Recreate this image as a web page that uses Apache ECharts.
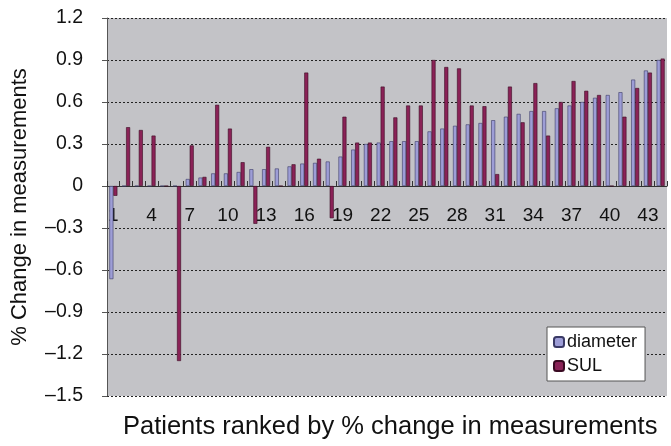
<!DOCTYPE html>
<html>
<head>
<meta charset="utf-8">
<script src="https://cdn.jsdelivr.net/npm/echarts@6/dist/echarts.min.js"></script>
<style>
html,body{margin:0;padding:0;background:#fff;}
#chart{width:671px;height:446px;}
</style>
</head>
<body>
<div id="chart"></div>
<script>
const categories = ['1','2','3','4','5','6','7','8','9','10','11','12','13','14','15','16','17','18','19','20','21','22','23','24','25','26','27','28','29','30','31','32','33','34','35','36','37','38','39','40','41','42','43','44'];
const diameter = [-0.665, 0, 0, 0, 0, 0, 0.05, 0.06, 0.09, 0.09, 0.10, 0.12, 0.12, 0.125, 0.14, 0.16, 0.165, 0.175, 0.21, 0.26, 0.30, 0.31, 0.32, 0.32, 0.32, 0.39, 0.41, 0.43, 0.44, 0.45, 0.47, 0.495, 0.515, 0.535, 0.535, 0.555, 0.575, 0.60, 0.63, 0.65, 0.67, 0.76, 0.825, 0.90];
const sul = [-0.07, 0.42, 0.40, 0.36, 0, -1.25, 0.29, 0.065, 0.58, 0.41, 0.17, -0.27, 0.28, 0, 0.155, 0.81, 0.195, -0.23, 0.495, 0.31, 0.31, 0.71, 0.49, 0.575, 0.575, 0.90, 0.85, 0.84, 0.575, 0.57, 0.085, 0.71, 0.455, 0.735, 0.36, 0.60, 0.75, 0.68, 0.65, 0, 0.495, 0.70, 0.81, 0.91];
const seriesNames = ['diameter', 'SUL'];
const yAxisTitle = '% Change in measurements';
const xAxisTitle = 'Patients ranked by % change in measurements';

const FONT = '"Liberation Sans", Arial, Helvetica, sans-serif';
const chart = echarts.init(document.getElementById('chart'));
chart.setOption({
  animation: false,
  backgroundColor: '#ffffff',
  textStyle: { fontFamily: FONT },
  grid: { left: 107, right: 4, top: 18, bottom: 50, show: true, backgroundColor: '#c3c3c7', borderWidth: 0 },
  legend: {
    orient: 'vertical',
    left: 547, top: 327,
    padding: [6, 8, 6, 6],
    itemGap: 6,
    itemWidth: 10, itemHeight: 10,
    backgroundColor: '#ffffff',
    borderColor: '#555',
    borderWidth: 1,
    borderRadius: 0,
    textStyle: { fontSize: 18, color: '#111', fontFamily: FONT, padding: [0,0,0,-2] },
    data: seriesNames
  },
  graphic: [{
    type: 'text',
    left: 123,
    top: 414,
    style: { text: xAxisTitle, fontSize: 25.5, fill: '#111', fontFamily: FONT }
  }],
  xAxis: {
    type: 'category',
    data: categories,
    position: 'bottom',
    offset: -210,
    axisLine: { onZero: false, lineStyle: { color: '#333', width: 1 } },
    axisTick: { show: true, inside: true, length: 5, interval: 0, lineStyle: { color: '#333' } },
    axisLabel: { interval: 2, fontSize: 19, color: '#111', margin: 20, fontFamily: FONT },
    splitLine: { show: false }
  },
  yAxis: {
    type: 'value',
    min: -1.5, max: 1.2, interval: 0.3,
    axisLine: { show: true, lineStyle: { color: '#555', width: 1 } },
    axisTick: { show: true, length: 5, lineStyle: { color: '#555' } },
    axisLabel: {
      fontSize: 19.5, color: '#111', margin: 24, fontFamily: FONT,
      formatter: v => String(v).replace('-', '\u2013')
    },
    splitLine: { show: true, showMinLine: true, showMaxLine: true, lineStyle: { color: '#222', type: [2, 2], width: 1 } },
    name: yAxisTitle,
    nameLocation: 'middle',
    nameGap: 76,
    nameTextStyle: { fontSize: 22, color: '#111', fontFamily: FONT }
  },
  series: [{
    name: seriesNames[0],
    type: 'bar',
    data: diameter,
    barWidth: 4,
    barGap: '0%',
    itemStyle: { color: '#9d9dd6', borderColor: '#3a3a66', borderWidth: 0.6 }
  }, {
    name: seriesNames[1],
    type: 'bar',
    data: sul,
    barWidth: 4,
    barGap: '0%',
    itemStyle: { color: '#8a2257', borderColor: '#3a0a22', borderWidth: 0.6 }
  }]
});
</script>
</body>
</html>
